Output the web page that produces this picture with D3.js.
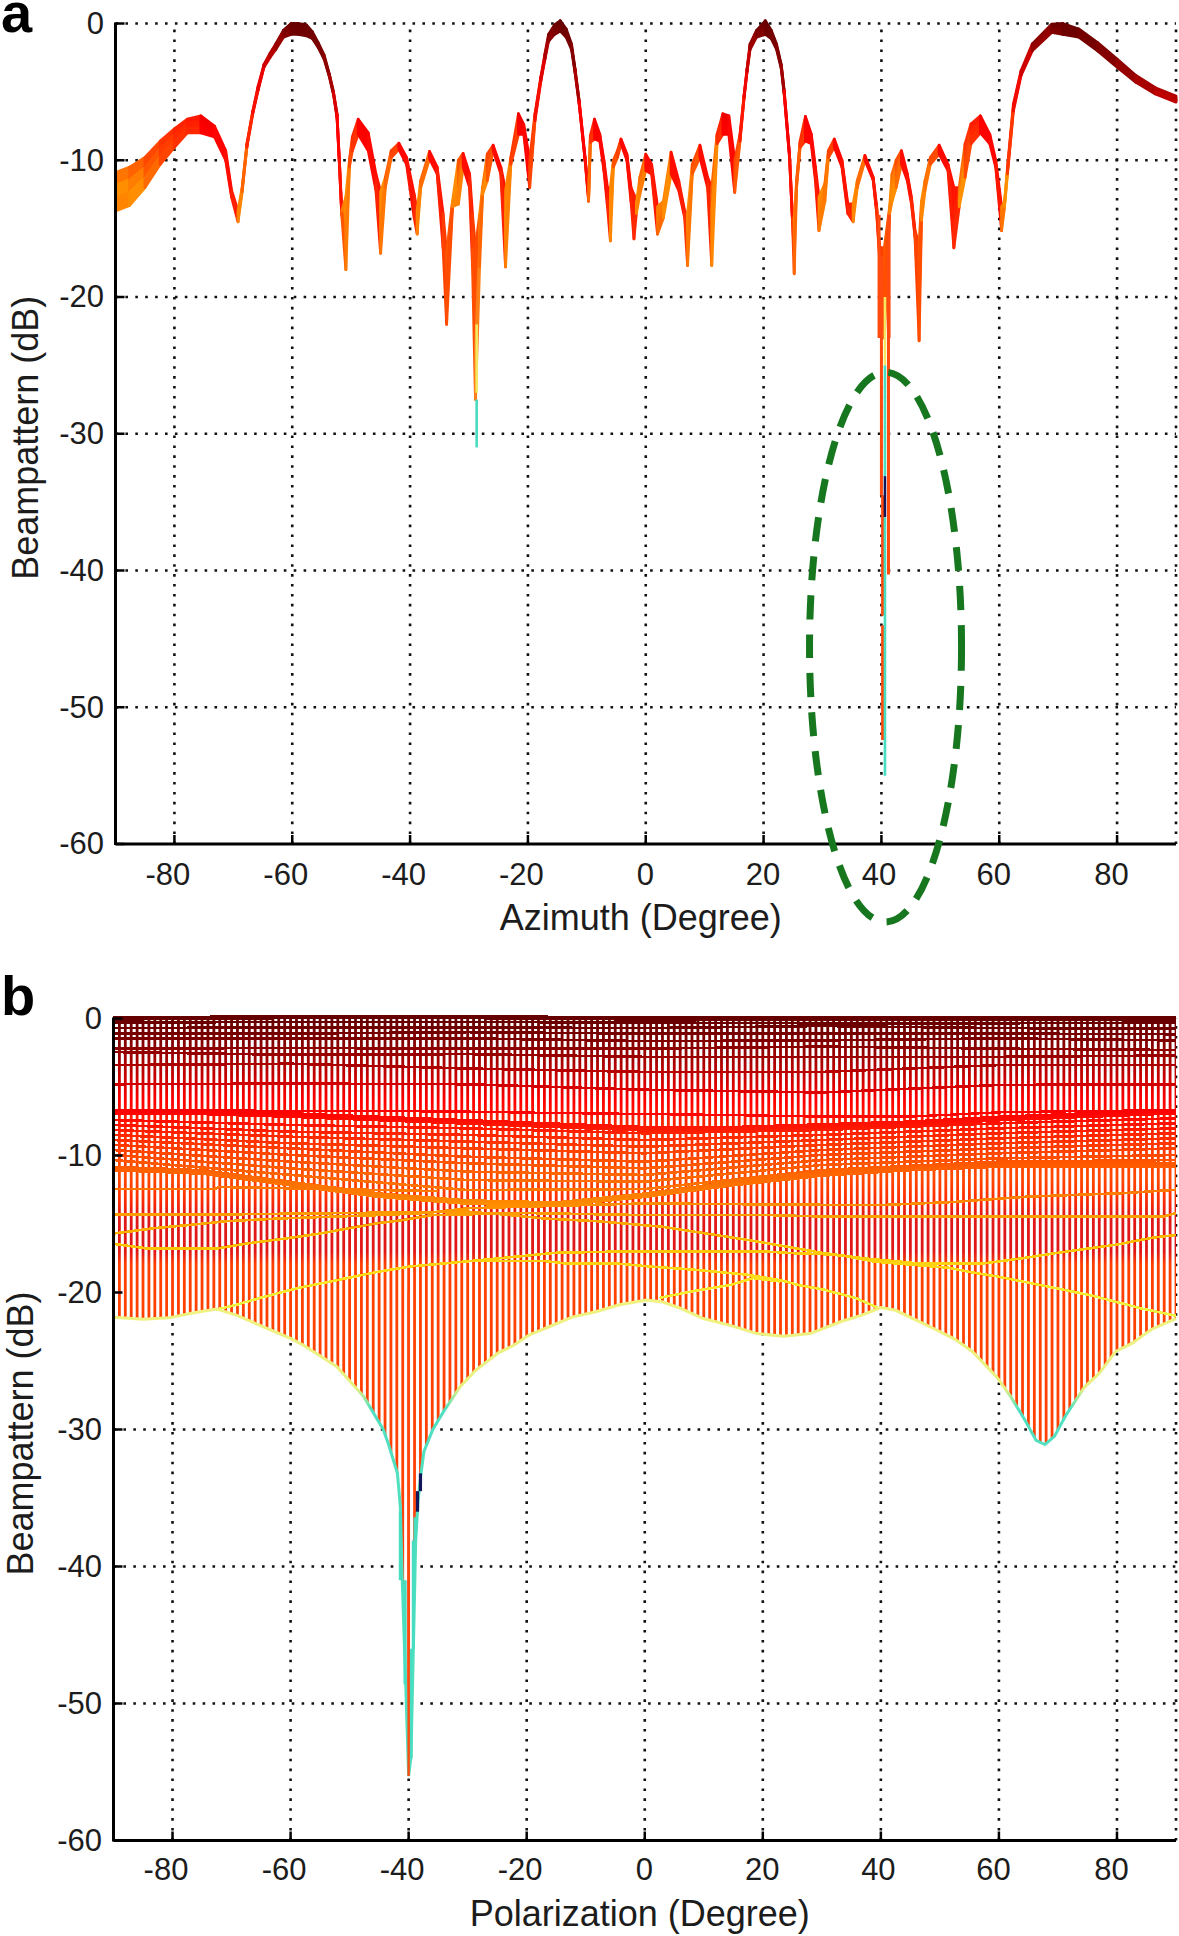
<!DOCTYPE html>
<html>
<head>
<meta charset="utf-8">
<script src="https://cdn.jsdelivr.net/npm/d3@7"></script>
<style>
  html, body { margin: 0; padding: 0; background: #fff; }
  svg { display: block; font-family: "Liberation Sans", Arial, sans-serif; }
</style>
</head>
<body>
<div id="chart"></div>
<script>
// Panel a: azimuth cut, upper and lower edge of the trace (dB)
const azimuth = [-90,-87.6,-85,-82.4,-80,-77.8,-75.5,-73.2,-71.3,-70.3,-69.2,-68.5,-67.7,-66.7,-65.8,-64.8,-63.8,-62.8,-61.5,-60.2,-59,-57.6,-56.6,-55.6,-54.6,-53.7,-53,-52.4,-52,-51.6,-50.9,-50.3,-49.8,-48.8,-47.1,-45.8,-45,-44.2,-43.2,-41.9,-40.6,-39.3,-38.8,-38.2,-36.7,-35.4,-34.4,-33.8,-32.8,-31.8,-31,-29.9,-29.4,-28.9,-28.2,-27.7,-26.9,-25.9,-24.6,-23.8,-22.9,-21.6,-20.7,-19.7,-18.8,-17.8,-17.1,-16.5,-15.5,-14.5,-13.5,-12.6,-12,-11.3,-10.3,-9.7,-9.4,-8.7,-7.8,-7.1,-6.5,-6,-5.5,-4.8,-4.2,-3.2,-2.5,-2,-1.6,-1,0,1,2,3,4.3,5.6,6.6,7.1,7.9,9.2,10.5,11.2,12.1,13.1,14.1,15.1,16,16.7,17.2,17.7,18.8,20.3,21.3,22.2,23,23.5,24.4,24.9,25.2,25.6,26.2,27.1,28.1,28.8,29.4,30.4,31,32,33.3,34.3,35.2,35.9,37.2,38.6,39.2,39.7,40.5,41.4,41.8,42.5,43.4,44.4,45.1,45.7,46.4,46.8,47.4,48.3,49.8,51.3,52.3,53.2,54.2,55.2,56.8,58.4,59.4,60.4,60.9,61.4,62.4,63.7,65.6,68.9,70.8,73.5,76.7,80,83.2,86.5,90];
const upperDb = [-10.9,-10.5,-9.8,-8.6,-7.7,-7,-6.75,-7.5,-9.3,-12.2,-13.7,-12,-8.8,-6.4,-4.6,-3,-2.2,-1.5,-0.5,0,0,-0.1,-0.6,-1.4,-2.3,-3.7,-5,-6.6,-10,-13.7,-12.7,-10,-8.3,-7,-8,-11,-12.3,-11.25,-9.3,-8.75,-9.8,-12.5,-13.7,-11.5,-9.35,-10.5,-13.9,-16.8,-13,-10,-9.5,-11,-14,-16.4,-14,-12,-9.55,-8.9,-10.5,-12.2,-9.8,-6.6,-7.4,-10,-6.6,-3.9,-2.2,-0.8,-0.1,0.2,-0.4,-1.5,-3.3,-5.65,-9.8,-12.5,-8.2,-7,-8.1,-10,-12,-12,-10,-9.3,-8.45,-9.55,-12,-12.5,-13.2,-11.25,-9.55,-10.3,-13.4,-13,-9.4,-11.5,-13.7,-13.9,-10.3,-8.9,-11.25,-12,-8.1,-6.6,-6.75,-10,-8.1,-5.2,-3.3,-1.5,-0.5,0.2,-0.5,-1.5,-3,-4.9,-9.55,-14.2,-14.2,-11.5,-8.6,-6.8,-8.1,-10.5,-12.7,-11.7,-9.3,-8.45,-10,-13.2,-13.2,-11.5,-9.65,-11.25,-13.4,-16.4,-16.4,-13.4,-11,-10,-9.3,-11,-12.7,-15.15,-16.1,-13,-11.5,-9.8,-8.9,-10.3,-12,-12,-8.8,-7.35,-6.75,-8.1,-10,-13.4,-13,-10.5,-5.9,-3.45,-1.5,-0.05,0,-0.4,-1.4,-2.6,-3.8,-4.7,-5.3];
const lowerDb = [-13.7,-13.3,-12,-10.3,-9.05,-8,-8,-8.3,-10,-12.7,-14.5,-12.3,-9.05,-6.6,-4.9,-3.2,-2.5,-1.9,-1,-0.8,-0.8,-0.9,-1.1,-1.75,-2.6,-3.9,-5.2,-6.9,-10.3,-14,-18,-10.5,-9.3,-8.1,-9.3,-12.2,-16.8,-12,-9.8,-9.2,-10.3,-14.2,-15.4,-12,-9.9,-11,-16.4,-22,-13.4,-13.2,-10.5,-12,-17.8,-27.5,-17.8,-12.5,-11.5,-9.3,-11,-17.8,-10.3,-8.1,-8.1,-12,-7.1,-4.2,-2.6,-1.3,-0.8,-0.55,-1,-1.9,-3.6,-5.9,-10,-13,-8.7,-8.45,-8.6,-10.75,-13.4,-15.9,-10.5,-9.8,-8.8,-10,-13,-15.75,-13.9,-12.5,-10.75,-11,-15.4,-14.2,-11,-12.2,-14.2,-17.7,-11,-9.8,-12,-17.7,-8.8,-8.1,-8.1,-12.35,-8.6,-5.4,-3.5,-1.9,-1,-0.8,-1.1,-1.9,-3.3,-5.2,-9.8,-14.4,-18.3,-12,-9.05,-8.6,-8.8,-11.5,-15.15,-13,-9.8,-9.05,-10.5,-13.9,-14.5,-12,-10,-11.45,-13.9,-17.3,-23,-13.9,-13,-12,-10.3,-11.5,-13.2,-15.6,-23.2,-14.4,-12.2,-10.3,-9.55,-10.75,-16.4,-13.4,-11.25,-8.8,-8,-8.8,-10.5,-15.15,-13.4,-11,-6.4,-3.8,-2,-0.65,-0.8,-1,-2,-3.2,-4.3,-5.15,-5.75];

// Panel a: deep null spikes drawn on their own
const spikeAz = [-28.7,-28.7,39.6,41.3,40,40.2,40.2,41.2,40.6,40.6,40.6,40.6];
const spikeTop = [-22,-27.5,-14,-14,-17,-34.5,-44,-17,-20,-25,-33.1,-36.1];
const spikeEnd = [-27,-31,-23,-23,-34.5,-43.3,-52.4,-40.3,-25,-33.1,-36.1,-55];
const spikeKind = ['yellow','teal','orange','orange','orange','orange','orange','orange','yellow','teal','navy','teal'];

// Panel a: circled region (annotation)
const circleAz = [40.7, 12.9];
const circleDb = [-45.6, 20.1];

// Panel b: polarization cut, lower envelope of the mesh
const polEnv = [-90,-85,-80.6,-76.6,-72.6,-69.2,-65.2,-60,-57.8,-52.2,-47.6,-44.3,-43.4,-41.9,-41.4,-41.1,-40.5,-40,-39.6,-39.2,-38.8,-38.4,-37.9,-37.4,-35.9,-34.1,-31.3,-28.7,-24.8,-22.2,-19.6,-16.2,-12.3,-8.3,-4.3,0.3,3.1,6,9.9,14.5,19,23.5,28,30.4,33.4,36.8,40,42.5,45.9,49.3,52.5,55.5,59.7,62,64.4,66.3,67.8,69.4,71.3,74.5,77,79.8,82.6,85.8,90];
const envDb = [-21.8,-21.95,-21.85,-21.5,-21.2,-21.65,-22.4,-23.35,-23.85,-25.4,-27.6,-30,-31.1,-33.2,-35.7,-40.8,-48.6,-55.3,-53.9,-46,-38.1,-35.2,-33.2,-31.6,-30,-28.7,-26.9,-25.7,-24.4,-23.85,-23.1,-22.5,-21.8,-21.4,-20.9,-20.55,-20.7,-21.15,-21.9,-22.4,-23,-23.2,-23,-22.6,-22.1,-21.65,-21.1,-21.3,-22,-22.7,-23.4,-24.3,-26.2,-27.6,-29.3,-30.8,-31.1,-30.5,-29,-26.9,-25.9,-24.3,-23.7,-22.7,-21.9];

// Panel b: mesh lines near the top, one row per azimuth sample
const polCoarse = [-90,-60,-30,0,30,60,90];
const rowsUpper = [
  [0,0.1,0.1,0,0,0,0],
  [-0.3,-0.25,-0.25,-0.3,-0.35,-0.35,-0.3],
  [-0.7,-0.65,-0.65,-0.7,-0.55,-0.7,-0.75],
  [-1.1,-1.1,-1,-1.1,-1.1,-1.1,-1.15],
  [-1.45,-1.45,-1.45,-1.65,-1.6,-1.45,-1.6],
  [-2.2,-2.15,-2.2,-2.2,-2.05,-2.2,-2.3],
  [-2.45,-2.65,-2.6,-2.8,-2.8,-2.8,-2.7],
  [-3.4,-3.3,-3.65,-3.9,-3.9,-3.4,-3.4],
  [-4.8,-4.75,-4.8,-5.2,-5.4,-4.85,-4.8]
];
const rowsMiddle = [
  [-7.41,-7.77,-8.02,-8.38,-8.14,-7.65,-7.29],
  [-7.77,-8.26,-8.5,-8.87,-8.5,-8.02,-7.65],
  [-8.14,-8.63,-8.99,-9.36,-8.87,-8.38,-8.02],
  [-8.5,-9.11,-9.48,-9.84,-9.23,-8.75,-8.38],
  [-8.87,-9.48,-10.09,-10.45,-9.6,-9.11,-8.75],
  [-9.23,-9.96,-10.57,-10.94,-9.96,-9.48,-9.11],
  [-9.6,-10.45,-11.18,-11.42,-10.33,-9.84,-9.48],
  [-9.96,-10.94,-11.79,-11.91,-10.69,-10.21,-9.96],
  [-10.33,-11.42,-12.52,-12.45,-11.06,-10.45,-10.33]
];

// Panel b: the two heavy bands and the thin row just above the first
const polFine = [-90,-75,-60,-45,-30,-15,0,15,30,45,60,75,90];
const bandHigh = [-6.85,-6.85,-7.05,-7.3,-7.55,-7.8,-8.05,-8.05,-7.85,-7.65,-7.3,-7.05,-6.8];
const bandLow = [-10.95,-11.2,-12.05,-12.9,-13.4,-13.55,-12.9,-12.05,-11.35,-10.95,-10.7,-10.7,-10.7];
const rowThin = [-6.7,-6.7,-6.75,-6.75,-6.8,-6.9,-6.97,-7.05,-7.16,-7.16,-6.85,-6.75,-6.7];

// Panel b: lower rows, which wander more, as [polarization, dB]
const rowsLower = [
  [[-90,-12.45],[-73,-12.45],[-72,-12.3],[-35,-12.6]],
  [[-90,-14.3],[-71,-14.3],[-30,-14.1],[-24,-14.3],[-17,-14.6],[-8,-14.8],[3,-15.2],[12,-15.8],[18,-16.2],[26,-16.8],[30,-17.1],[37,-17.5],[47,-17.9],[57,-17.9],[64,-17.5],[70,-17.1],[80,-16.5],[86,-16],[90,-15.8]],
  [[-90,-15.7],[-83,-15.3],[-76.6,-15.05],[-71,-14.8],[-62,-14.6],[-45,-14.35],[-37,-14.2],[-30,-13.85],[0,-13.5],[30,-13.6],[41,-13.6],[52,-13.4],[65,-13],[81,-12.75],[90,-12.5]],
  [[-90,-16.45],[-84,-16.8],[-72.6,-16.8],[-67,-16.4],[-60.7,-16.05],[-55,-15.7],[-50,-15.3],[-45.3,-14.95],[-40.8,-14.7],[-36,-14.35],[-20,-14.2],[0,-14.35],[21,-14.35],[30,-14.45],[88,-14.45],[90,-14.2]],
  [[-72.6,-21.25],[-69.2,-20.9],[-65.2,-20.4],[-59,-19.7],[-51,-19],[-45.3,-18.5],[-39.7,-18.1],[-30.6,-17.75],[-15,-17.1],[-3,-17],[20,-17],[26,-17.15],[30,-17.2],[33.4,-17.3],[39,-17.75],[51.6,-18.2],[55,-18.5],[60,-18.85],[64,-19.2],[69.8,-19.7],[75.5,-20.2],[80,-20.7],[84,-21.15],[90,-21.7]],
  [[-31,-17.7],[-17,-17.7],[-13,-17.9],[-4.3,-17.9],[0.8,-18.1],[8.8,-18.35],[17.3,-18.7],[23,-19.1],[26,-19.45],[30.4,-19.8],[35.7,-20.4],[39.7,-21.15]],
  [[2.5,-20.4],[7.6,-19.95],[14.5,-19.45],[18.4,-18.95],[23,-19.2]]
];

// Panel b: spikes of the null at -40 degrees
const notchPol = [-41.4,-40.6,-39.6,-39.2,-38.9,-38,-38.5,-40];
const notchTop = [-36,-41,-46,-38.1,-36.4,-33.2,-34.5,-20];
const notchEnd = [-41,-48.6,-54,-46,-38.1,-34.5,-36,-55.3];
const notchKind = ['teal','teal','teal','teal','teal','navy','navy','orange'];

// Tick labels
const xTicks = [-80,-60,-40,-20,0,20,40,60,80];
const yTicks = [0,-10,-20,-30,-40,-50,-60];

const width = 1179, height = 1936;
const svg = d3.select('#chart').append('svg').attr('width', width).attr('height', height);
const defs = svg.append('defs');

const spikeColor = { yellow: '#f4e860', teal: '#48dcc0', navy: '#14145a', orange: '#ff4a10' };

// Trace colour in panel a: left flanks of the lobes read lighter than right flanks
const heatRise = d3.scaleLinear()
  .domain([0, -1.5, -3.5, -7, -10, -12, -13.5, -16, -20, -24, -27.5, -60])
  .range(['#660000','#a00000','#e80000','#ff1800','#ff5000','#ff9000','#ff8000','#ff4c00','#ff5000','#f8d840','#50e0c0','#50e0c0']);
const heatFall = d3.scaleLinear()
  .domain([0, -3, -5, -6.5, -8, -12, -16, -22, -25, -27.5, -60])
  .range(['#660000','#8a0000','#b00000','#e80000','#ff0000','#ff1000','#ff3800','#ff5000','#f8d840','#50e0c0','#50e0c0']);

// Colour levels used for the mesh in panel b
const rowStops = [[0,'#660000'],[-1.5,'#7c0000'],[-3,'#a00000'],[-4.8,'#d00000'],[-6.8,'#ff0000'],[-8,'#ff1800'],[-9.5,'#ff4000'],[-11,'#ff6000'],[-13,'#ff8000'],[-14.5,'#ffa000'],[-16.5,'#ffc000'],[-19,'#ffe020'],[-21,'#f0f040'],[-60,'#f0f040']];
const columnStops = [[0,'#660000'],[-2,'#8a0000'],[-4,'#c00000'],[-6,'#ff0000'],[-7.5,'#ff2000'],[-11.5,'#ff4a00'],[-13,'#ff3000'],[-14.5,'#e01818'],[-17,'#e01818'],[-18,'#ff4000'],[-60,'#ff4410']];
const edgeStops = [[-20,'#f2f280'],[-27,'#e8f080'],[-28.5,'#50e0c0'],[-60,'#50e0c0']];

function addGradient(id, stops, y) {
  const g = defs.append('linearGradient').attr('id', id)
    .attr('gradientUnits', 'userSpaceOnUse')
    .attr('x1', 0).attr('x2', 0).attr('y1', y(0)).attr('y2', y(-60));
  g.selectAll('stop').data(stops).enter().append('stop')
    .attr('offset', d => -d[0] / 60)
    .attr('stop-color', d => d[1]);
}

// The x labels sit slightly left of their ticks, more so at both ends
const labelNudge = d => d < 0 ? -7 : d >= 60 ? -6 : d === 40 ? -3 : -1;

function drawFrame(x, y, xLabel, xLabelY, tickY, yLabelX, labelRight) {
  const left = x.range()[0], right = x.range()[1], top = y(0), bottom = y(-60);
  const g = svg.append('g');

  // Dotted grid
  const grid = g.append('g').attr('fill', 'none').attr('stroke', '#111')
    .attr('stroke-width', 2.6).attr('stroke-dasharray', '2.6 7.3');
  grid.selectAll('.gx').data(xTicks.concat([90])).enter().append('line')
    .attr('x1', d => x(d)).attr('x2', d => x(d)).attr('y1', bottom).attr('y2', top);
  grid.selectAll('.gy').data(yTicks.slice(0, 6)).enter().append('line')
    .attr('x1', left).attr('x2', right).attr('y1', d => y(d)).attr('y2', d => y(d));

  const axes = svg.append('g').attr('class', 'axes');

  const ax = axes.append('g').attr('transform', `translate(0,${bottom})`)
    .call(d3.axisBottom(x).tickValues(xTicks).tickSize(0).tickPadding(0).tickFormat(d => String(d)));
  ax.select('.domain').remove();
  ax.selectAll('text')
    .attr('y', tickY - bottom).attr('dy', 0)
    .attr('dx', labelNudge)
    .style('font-size', '31px').style('fill', '#1c1c1c');

  const ay = axes.append('g').attr('transform', `translate(${labelRight},0)`)
    .call(d3.axisLeft(y).tickValues(yTicks).tickSize(0).tickPadding(0).tickFormat(d => String(d)));
  ay.select('.domain').remove();
  ay.selectAll('text').style('font-size', '31px').style('fill', '#1c1c1c');

  const lines = axes.append('g').attr('stroke', '#000');
  lines.selectAll('.tx').data(xTicks).enter().append('line')
    .attr('stroke-width', 2.5)
    .attr('x1', d => x(d)).attr('x2', d => x(d)).attr('y1', bottom).attr('y2', bottom - 9);
  lines.selectAll('.ty').data(yTicks).enter().append('line')
    .attr('stroke-width', 2.5)
    .attr('x1', left).attr('x2', left + 9).attr('y1', d => y(d)).attr('y2', d => y(d));
  lines.append('line').attr('stroke-width', 3).attr('x1', left).attr('x2', left).attr('y1', top - 1).attr('y2', bottom + 1);
  lines.append('line').attr('stroke-width', 3).attr('x1', left).attr('x2', right).attr('y1', bottom).attr('y2', bottom);

  axes.append('text').attr('x', (x(-90) + x(90)) / 2 - 5).attr('y', xLabelY)
    .attr('text-anchor', 'middle').style('font-size', '36px').style('fill', '#1c1c1c').text(xLabel);
  axes.append('text')
    .attr('transform', `translate(${yLabelX},${y(-30) + 4}) rotate(-90)`)
    .attr('text-anchor', 'middle').style('font-size', '36px').style('fill', '#1c1c1c')
    .text('Beampattern (dB)');
  return g;
}

// ---------- Panel a ----------
const xA = d3.scaleLinear().domain([-90, 90]).range([115.5, 1176]);
const yA = d3.scaleLinear().domain([0, -60]).range([23.5, 844]);

drawFrame(xA, yA, 'Azimuth (Degree)', 930, 885, 38, 104);

// Each step of the trace is split into three slices, coloured by level
const slices = d3.range(azimuth.length - 1).flatMap(i => [0, 1, 2].map(k => ({ i, k })));
const sliceEdge = (i, k) => upperDb[i] + (lowerDb[i] - upperDb[i]) * k / 3;
const tracePath = d3.line();
const traceLayer = svg.insert('g', '.axes');
traceLayer.selectAll('path').data(slices).enter().append('path')
  .attr('d', ({ i, k }) => tracePath([
    [xA(azimuth[i]), yA(sliceEdge(i, k))],
    [xA(azimuth[i + 1]), yA(sliceEdge(i + 1, k))],
    [xA(azimuth[i + 1]), yA(sliceEdge(i + 1, k + 1))],
    [xA(azimuth[i]), yA(sliceEdge(i, k + 1))]
  ]) + 'Z')
  .each(function ({ i, k }) {
    const level = (sliceEdge(i, k + 0.5) + sliceEdge(i + 1, k + 0.5)) / 2;
    const c = upperDb[i + 1] > upperDb[i] ? heatRise(level) : heatFall(level);
    d3.select(this).attr('fill', c).attr('stroke', c);
  })
  .attr('stroke-width', 2.8)
  .attr('stroke-linejoin', 'round');

traceLayer.selectAll('.spike').data(spikeAz).enter().append('line')
  .attr('x1', d => xA(d)).attr('x2', d => xA(d))
  .attr('y1', (d, i) => yA(spikeTop[i])).attr('y2', (d, i) => yA(spikeEnd[i]))
  .attr('stroke', (d, i) => spikeColor[spikeKind[i]])
  .attr('stroke-width', (d, i) => spikeKind[i] === 'orange' ? 3 : 2.6);

svg.append('ellipse')
  .attr('cx', xA(circleAz[0])).attr('rx', xA(circleAz[0] + circleAz[1]) - xA(circleAz[0]))
  .attr('cy', yA(circleDb[0])).attr('ry', yA(circleDb[0] - circleDb[1]) - yA(circleDb[0]))
  .attr('fill', 'none').attr('stroke', '#17771f').attr('stroke-width', 7)
  .attr('stroke-dasharray', '24 15');

// ---------- Panel b ----------
const xB = d3.scaleLinear().domain([-90, 90]).range([113.5, 1176]);
const yB = d3.scaleLinear().domain([0, -60]).range([1018.5, 1840.5]);

addGradient('rowHeat', rowStops, yB);
addGradient('columnHeat', columnStops, yB);
addGradient('edgeHeat', edgeStops, yB);

drawFrame(xB, yB, 'Polarization (Degree)', 1926, 1880, 33, 102);

const meshLayer = svg.insert('g', '.axes:last-of-type');

// The mesh has opaque faces, so the grid does not show through it
const meshArea = d3.area()
  .x((d, i) => xB(polEnv[i]))
  .y0(yB(0.15))
  .y1(d => yB(d));
meshLayer.append('path').attr('d', meshArea(envDb)).attr('fill', '#fff');

defs.append('clipPath').attr('id', 'meshClip').append('path').attr('d', meshArea(envDb));

// One column per degree of polarization
meshLayer.append('g').attr('clip-path', 'url(#meshClip)')
  .selectAll('path').data(d3.range(-90, 91)).enter().append('path')
  .attr('d', d => `M${xB(d)},${yB(0.15)}V${yB(-60)}`)
  .attr('fill', 'none').attr('stroke', 'url(#columnHeat)').attr('stroke-width', 2.8);

// crisp edges give the stair-stepped rows of the low resolution original
const rowLine = d3.line().x(d => xB(d[0])).y(d => yB(d[1]));
const drawRow = (points, w) => meshLayer.append('path')
  .attr('d', rowLine(points)).attr('fill', 'none')
  .attr('shape-rendering', 'crispEdges')
  .attr('stroke', 'url(#rowHeat)').attr('stroke-width', w);

rowsUpper.forEach((row, r) => drawRow(row.map((v, i) => [polCoarse[i], v]), r === 0 ? 4.5 : 2.6));
rowsMiddle.forEach(row => drawRow(row.map((v, i) => [polCoarse[i], v]), 2.6));
rowsLower.forEach(row => drawRow(row, 2.6));
drawRow(rowThin.map((v, i) => [polFine[i], v]), 2.4);
drawRow(bandHigh.map((v, i) => [polFine[i], v]), 6);
drawRow(bandLow.map((v, i) => [polFine[i], v]), 6);

// Lower envelope, pale yellow turning teal towards the nulls
meshLayer.append('path')
  .attr('d', rowLine(polEnv.map((p, i) => [p, envDb[i]])))
  .attr('fill', 'none').attr('stroke', 'url(#edgeHeat)').attr('stroke-width', 3);

meshLayer.selectAll('.notch').data(notchPol).enter().append('line')
  .attr('x1', d => xB(d)).attr('x2', d => xB(d))
  .attr('y1', (d, i) => yB(notchTop[i])).attr('y2', (d, i) => yB(notchEnd[i]))
  .attr('stroke', (d, i) => spikeColor[notchKind[i]])
  .attr('stroke-width', (d, i) => notchKind[i] === 'orange' ? 2.4 : 3.2);

// Panel letters
svg.append('text').attr('x', 1).attr('y', 32).style('font-size', '56px').style('font-weight', 'bold').text('a');
svg.append('text').attr('x', 1).attr('y', 1015).style('font-size', '56px').style('font-weight', 'bold').text('b');
</script>
</body>
</html>
